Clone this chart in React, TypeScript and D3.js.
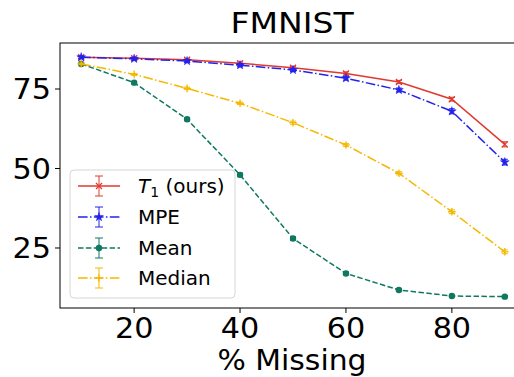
import React from "react";
import * as d3 from "d3";

const missing = [10, 20, 30, 40, 50, 60, 70, 80, 90];
const t1Vals = [85.0, 84.7, 84.2, 83.1, 81.7, 79.9, 77.2, 71.8, 57.6];
const t1Err = [0.3, 0.3, 0.3, 0.4, 0.4, 0.5, 0.5, 0.6, 0.8];
const mpeVals = [85.0, 84.5, 83.8, 82.5, 81.0, 78.4, 74.7, 68.0, 52.0];
const mpeErr = [0.4, 0.4, 0.4, 0.5, 0.5, 0.6, 0.6, 0.8, 0.9];
const meanVals = [82.9, 77.0, 65.5, 48.0, 28.0, 17.0, 11.8, 9.9, 9.7];
const meanErr = [0.3, 0.4, 0.5, 0.6, 0.6, 0.5, 0.4, 0.3, 0.3];
const medianVals = [82.9, 79.6, 75.2, 70.5, 64.4, 57.4, 48.5, 36.4, 23.8];
const medianErr = [0.3, 0.3, 0.4, 0.4, 0.5, 0.5, 0.5, 0.6, 0.6];
const xTicks = [20, 40, 60, 80];
const yTicks = [25, 50, 75];

type Series = {
  name: string;
  vals: number[];
  err: number[];
  color: string;
  dash: string;
  marker: "x" | "star" | "o" | "+";
};

const series: Series[] = [
  { name: "T1", vals: t1Vals, err: t1Err, color: "#e0392f", dash: "", marker: "x" },
  { name: "MPE", vals: mpeVals, err: mpeErr, color: "#2222ee", dash: "9.6,2.4,1.5,2.4", marker: "star" },
  { name: "Mean", vals: meanVals, err: meanErr, color: "#0f7860", dash: "5.5,2.4", marker: "o" },
  { name: "Median", vals: medianVals, err: medianErr, color: "#f5b800", dash: "9.6,2.4,1.5,2.4", marker: "+" },
];

const W = 514;
const H = 377;
const left = 60;
const right = 526;
const top = 43;
const bottom = 308;

const x = d3.scaleLinear().domain([6, 94]).range([left, right]);
const y = d3.scaleLinear().domain([6.13, 89.47]).range([bottom, top]);

function Marker({ kind, cx, cy, color }: { kind: string; cx: number; cy: number; color: string }) {
  if (kind === "x") {
    const r = 3;
    return (
      <path
        d={`M${cx - r},${cy - r}L${cx + r},${cy + r}M${cx - r},${cy + r}L${cx + r},${cy - r}`}
        stroke={color}
        strokeWidth={1.3}
      />
    );
  }
  if (kind === "+") {
    const r = 3.8;
    return (
      <path d={`M${cx - r},${cy}L${cx + r},${cy}M${cx},${cy - r}L${cx},${cy + r}`} stroke={color} strokeWidth={1.3} />
    );
  }
  if (kind === "star") {
    const p = d3.symbol().type(d3.symbolStar).size(24)();
    return <path d={p || ""} transform={`translate(${cx},${cy})`} fill={color} stroke={color} strokeWidth={0.5} />;
  }
  return <circle cx={cx} cy={cy} r={3.2} fill={color} />;
}

function SText({
  x0,
  y0,
  sx,
  size,
  anchor,
  dy,
  children,
}: {
  x0: number;
  y0: number;
  sx: number;
  size: number;
  anchor: string;
  dy?: string;
  children: React.ReactNode;
}) {
  return (
    <text
      transform={`translate(${x0},${y0}) scale(${sx},1)`}
      fontSize={size}
      textAnchor={anchor}
      dy={dy}
      fill="#000"
    >
      {children}
    </text>
  );
}

export default function App() {
  const line = d3
    .line<number>()
    .x((_, i) => x(missing[i]))
    .y((v) => y(v));
  const fs = "'DejaVu Sans', sans-serif";
  const legX = 70;
  const legY = 170;
  const rowY = [186, 217, 248, 278];
  return (
    <svg width={W} height={H} style={{ position: "absolute", left: 0, top: 0, background: "#fff" }} fontFamily={fs}>
      <defs>
        <clipPath id="plotclip">
          <rect x={left} y={top} width={right - left} height={bottom - top} />
        </clipPath>
      </defs>
      <rect x={0} y={0} width={W} height={H} fill="#fff" />
      <g clipPath="url(#plotclip)">
        {series.map((s) => (
          <g key={s.name}>
            <path d={line(s.vals) || ""} fill="none" stroke={s.color} strokeWidth={1.5} strokeDasharray={s.dash} />
            {s.vals.map((v, i) => {
              const cx = x(missing[i]);
              const y1 = y(v - s.err[i]);
              const y2 = y(v + s.err[i]);
              return (
                <g key={i}>
                  <path
                    d={`M${cx},${y1}L${cx},${y2}M${cx - 3},${y1}L${cx + 3},${y1}M${cx - 3},${y2}L${cx + 3},${y2}`}
                    stroke={s.color}
                    strokeWidth={1}
                  />
                  <Marker kind={s.marker} cx={cx} cy={y(v)} color={s.color} />
                </g>
              );
            })}
          </g>
        ))}
      </g>
      <rect x={left} y={top} width={right - left} height={bottom - top} fill="none" stroke="#000" strokeWidth={1} />
      {xTicks.map((t) => (
        <g key={t}>
          <line x1={x(t)} x2={x(t)} y1={bottom} y2={bottom + 5} stroke="#000" strokeWidth={1} />
          <SText x0={x(t)} y0={338} sx={1.08} size={28} anchor="middle">
            {t}
          </SText>
        </g>
      ))}
      {yTicks.map((t) => (
        <g key={t}>
          <line x1={left - 5} x2={left} y1={y(t)} y2={y(t)} stroke="#000" strokeWidth={1} />
          <SText x0={51} y0={y(t)} sx={1.08} size={28} anchor="end" dy="0.36em">
            {t}
          </SText>
        </g>
      ))}
      <SText x0={292} y0={370} sx={1.065} size={28} anchor="middle">
        % Missing
      </SText>
      <SText x0={292} y0={33} sx={1.14} size={29} anchor="middle">
        FMNIST
      </SText>
      <rect
        x={legX}
        y={legY}
        width={165}
        height={128}
        rx={4}
        fill="#fff"
        fillOpacity={0.8}
        stroke="#d6d6d6"
        strokeWidth={1}
      />
      {series.map((s, i) => {
        const cy = rowY[i];
        const cx = 99;
        return (
          <g key={s.name}>
            <line x1={78} x2={120} y1={cy} y2={cy} stroke={s.color} strokeWidth={1.5} strokeDasharray={s.dash} />
            <path
              d={`M${cx},${cy - 10}L${cx},${cy + 10}M${cx - 4},${cy - 10}L${cx + 4},${cy - 10}M${cx - 4},${cy + 10}L${cx + 4},${cy + 10}`}
              stroke={s.color}
              strokeWidth={1}
            />
            <Marker kind={s.marker} cx={cx} cy={cy} color={s.color} />
            {i === 0 ? (
              <text x={138} y={cy} dy="0.36em" fontSize={20} fill="#000">
                <tspan fontStyle="italic">T</tspan>
                <tspan fontSize={14} dy="4">1</tspan>
                <tspan dy="-4"> (ours)</tspan>
              </text>
            ) : (
              <text x={138} y={cy} dy="0.36em" fontSize={20} fill="#000">
                {s.name}
              </text>
            )}
          </g>
        );
      })}
    </svg>
  );
}
